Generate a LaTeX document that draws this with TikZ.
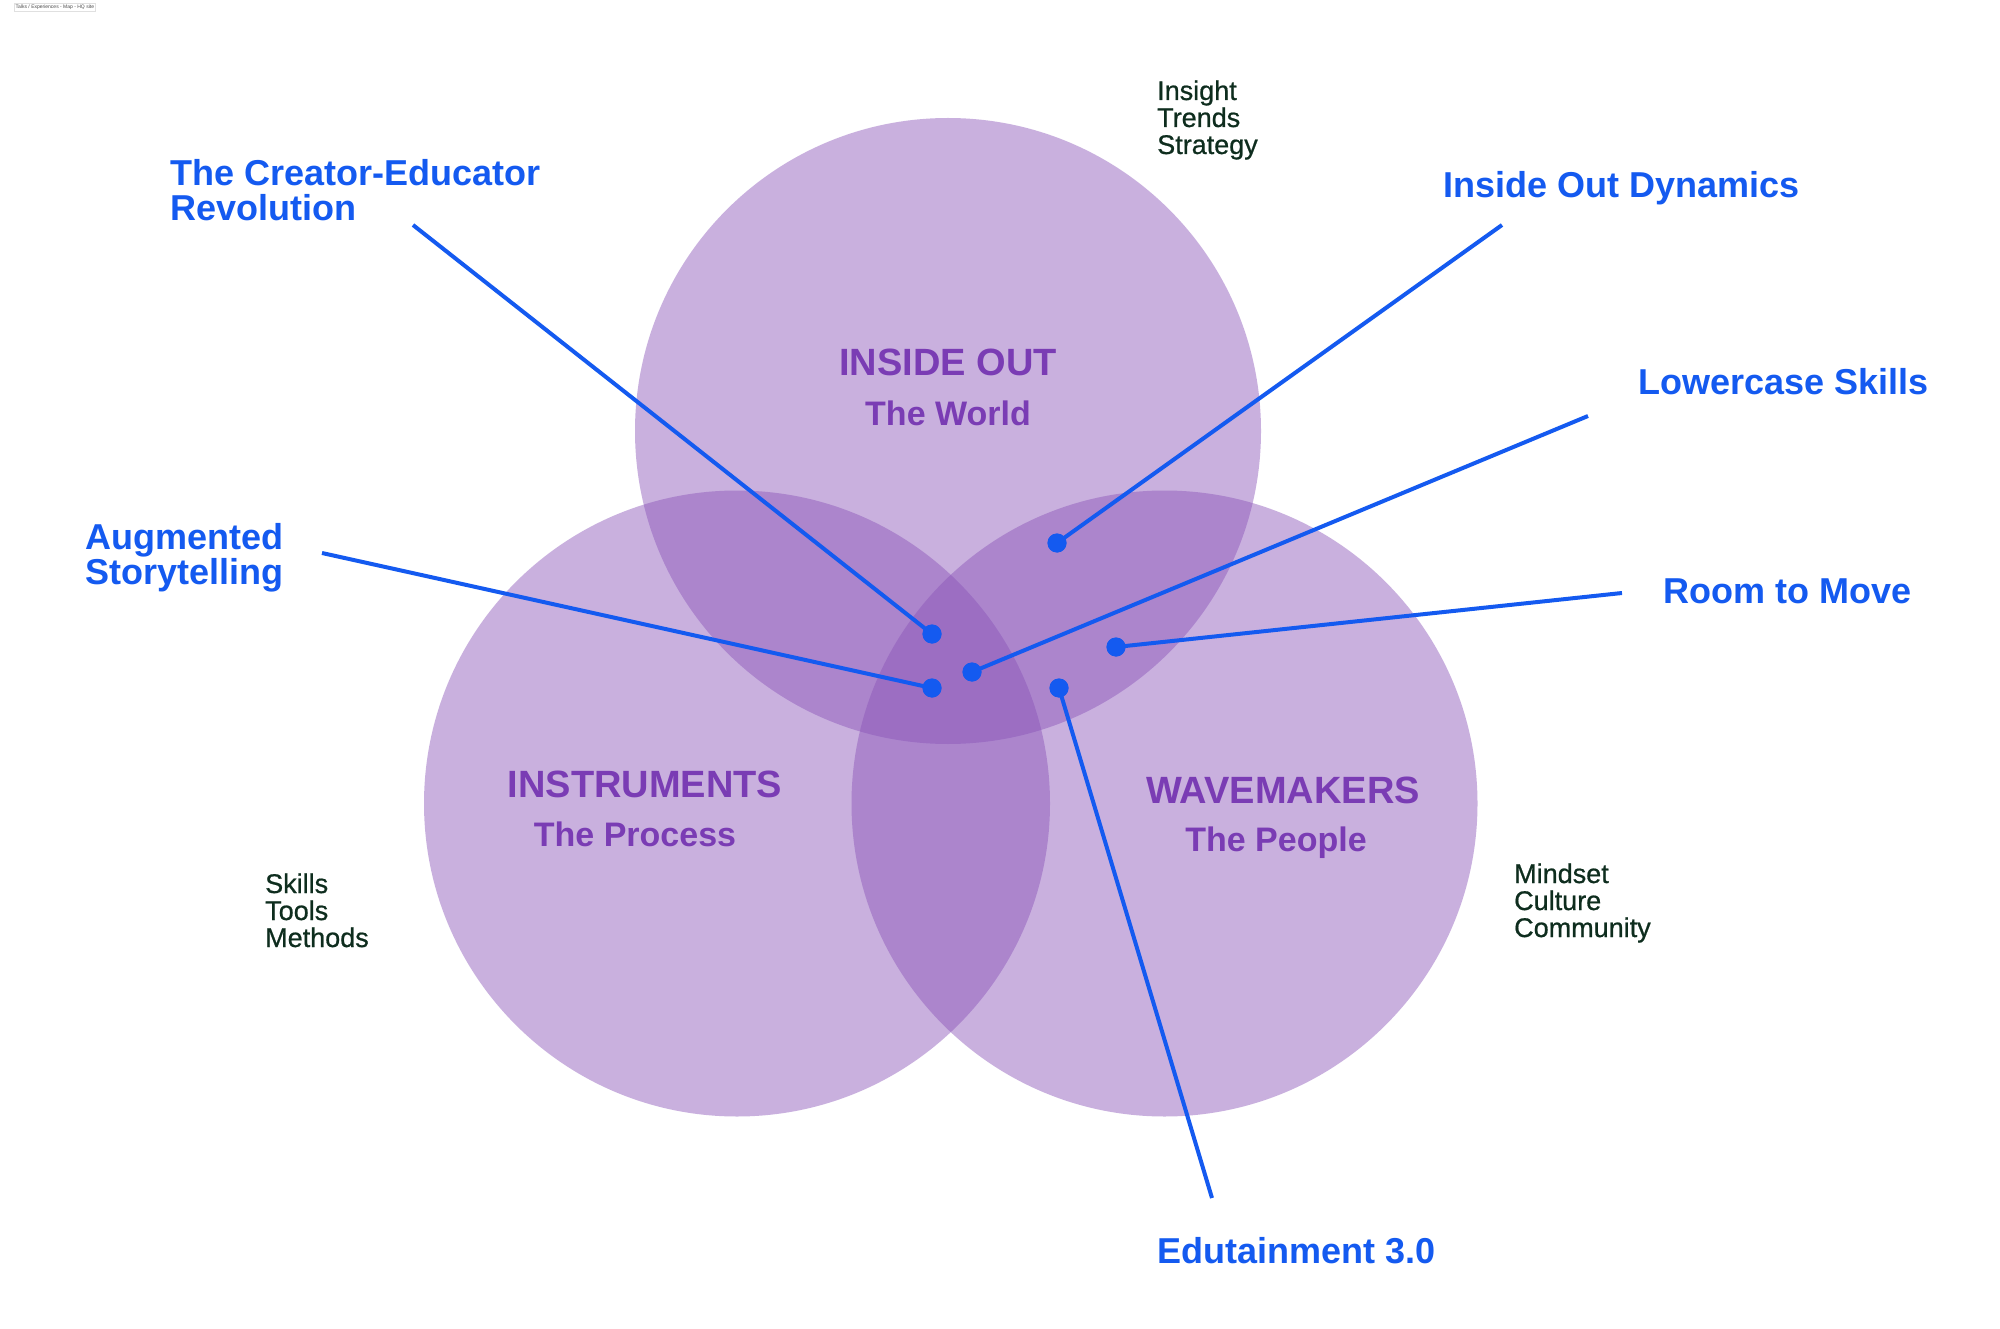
\documentclass[tikz,border=0pt]{standalone}
\usepackage{fontspec}
\setmainfont{Liberation Sans}
\newfontfamily\medfont{Liberation Sans}[BoldFont={Liberation Sans},BoldFeatures={FakeBold=0.7}]
\definecolor{venn}{RGB}{137,82,184}
\definecolor{vlabel}{RGB}{122,60,180}
\definecolor{lblue}{RGB}{20,90,240}
\definecolor{dgreen}{RGB}{14,45,30}
\tikzset{
  vcircle/.style={fill=venn,fill opacity=0.45,draw=none},
  bluelabel/.style={text=lblue,font=\fontsize{36}{36}\selectfont\bfseries,anchor=base west,inner sep=0pt},
  vtitle/.style={text=vlabel,font=\fontsize{38}{38}\selectfont\bfseries,anchor=base,inner sep=0pt},
  vsub/.style={text=vlabel,font=\fontsize{34}{34}\selectfont\bfseries,anchor=base,inner sep=0pt},
  greenlist/.style={text=dgreen,font=\fontsize{27}{27}\medfont\bfseries,anchor=base west,inner sep=0pt},
  conn/.style={draw=lblue,line width=4pt},
  dot/.style={circle,fill=lblue,minimum size=19pt,inner sep=0pt,draw=none}
}
\begin{document}
\begin{tikzpicture}[x=1pt,y=-1pt]
\useasboundingbox[fill=white] (0,0) rectangle (2000,1329);
% tiny header
\node[draw=black!12,line width=0.4pt,fill=white,inner sep=1.5pt,anchor=north west,font=\fontsize{5}{5}\selectfont,text=black!70] (hdr) at (14,3) {Talks / Experiences - Map - HQ site};
% circles
\fill[vcircle] (948,431) circle (313);
\fill[vcircle] (737,803.5) circle (313);
\fill[vcircle] (1164.5,803.5) circle (313);
% circle labels
\node[vtitle] (t1) at (948,376) {INSIDE OUT};
\node[vsub] (s1) at (948,425) {The World};
\node[vtitle] (t2) at (645,797) {INSTRUMENTS};
\node[vsub] (s2) at (635,846) {The Process};
\node[vtitle] (t3) at (1283,803) {WAVEMAKERS};
\node[vsub] (s3) at (1276,851) {The People};
% green lists
\node[greenlist] (g1a) at (1157,100) {Insight};
\node[greenlist] (g1b) at (1157,127) {Trends};
\node[greenlist] (g1c) at (1157,154) {Strategy};
\node[greenlist] (g2a) at (265,893) {Skills};
\node[greenlist] (g2b) at (265,920) {Tools};
\node[greenlist] (g2c) at (265,947) {Methods};
\node[greenlist] (g3a) at (1514,883) {Mindset};
\node[greenlist] (g3b) at (1514,910) {Culture};
\node[greenlist] (g3c) at (1514,937) {Community};
% blue labels
\node[bluelabel] (l1a) at (170,185.5) {The Creator-Educator};
\node[bluelabel] (l1b) at (170,220.5) {Revolution};
\node[bluelabel] (l2) at (1443,198) {Inside Out Dynamics};
\node[bluelabel] (l3) at (1638,395) {Lowercase Skills};
\node[bluelabel] (l4a) at (85,549.5) {Augmented};
\node[bluelabel] (l4b) at (85,584.5) {Storytelling};
\node[bluelabel] (l5) at (1663,603) {Room to Move};
\node[bluelabel] (l6) at (1157,1263) {Edutainment 3.0};
% connector free ends
\coordinate (e1) at (413,225);
\coordinate (e2) at (1502,225);
\coordinate (e3) at (1588,416);
\coordinate (e4) at (322,553);
\coordinate (e5) at (1622,593);
\coordinate (e6) at (1212,1198);
% dots
\node[dot] (d1) at (932,634) {};
\node[dot] (d2) at (1057,543) {};
\node[dot] (d3) at (972,672) {};
\node[dot] (d4) at (932,688) {};
\node[dot] (d5) at (1116,647) {};
\node[dot] (d6) at (1059,688) {};
% connectors
\draw[conn] (e1) -- (d1.center);
\draw[conn] (e2) -- (d2.center);
\draw[conn] (e3) -- (d3.center);
\draw[conn] (e4) -- (d4.center);
\draw[conn] (e5) -- (d5.center);
\draw[conn] (e6) -- (d6.center);
\foreach \d in {d1,d2,d3,d4,d5,d6} \fill[lblue] (\d) circle (9.5);
\end{tikzpicture}
\end{document}
